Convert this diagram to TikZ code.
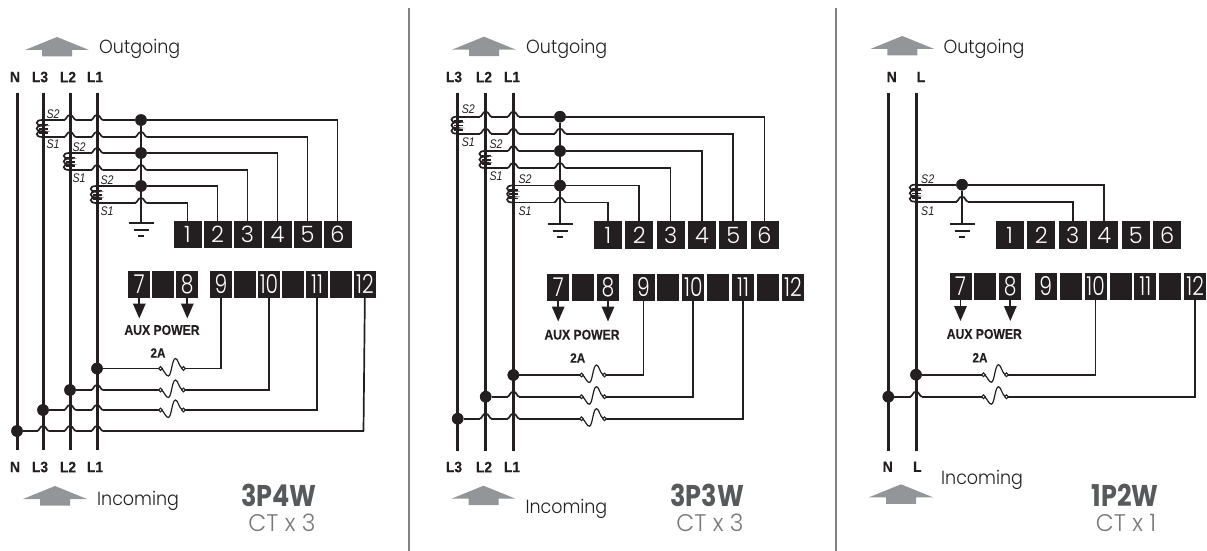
\documentclass[tikz,border=0pt]{standalone}
\usepackage{fontspec}
\usetikzlibrary{arrows.meta}
\setmainfont{Liberation Sans}
\newfontfamily\gothfont{Poppins Light}[FakeStretch=0.92]
\newfontfamily\gothwide{Poppins Light}[FakeStretch=0.97]
\newfontfamily\gothtall{Poppins Light}[FakeStretch=0.78]
\newfontfamily\gothtop{Poppins Light}
\newfontfamily\gothbold{Poppins}[FakeStretch=0.85,UprightFont=* Bold]
\newfontfamily\labelfont{Liberation Sans Bold}[FakeStretch=0.92,FakeBold=0.3]
\newfontfamily\auxfont{Liberation Sans Bold}[FakeStretch=0.87,FakeBold=0.3]
\newfontfamily\slabelfont{Liberation Sans Italic}[FakeStretch=0.85]

\definecolor{inkdark}{HTML}{231F20}
\definecolor{flowgray}{HTML}{939598}
\definecolor{titlegray}{HTML}{58595B}
\definecolor{subgray}{HTML}{77787B}
\definecolor{rulegray}{HTML}{808285}

\tikzset{
    bus/.style={draw=inkdark, line width=3},
    wire/.style={draw=inkdark, line width=1.7},
    divider/.style={draw=rulegray, line width=2.6},
    junction/.style={circle, fill=inkdark, inner sep=0, minimum size=11.5},
    termtop/.style={fill=inkdark, text=white, inner sep=0, minimum width=28, minimum height=27.5, font=\gothtop\fontsize{22.5}{23}\selectfont},
    termlow/.style={fill=inkdark, text=white, inner sep=0, minimum width=22, minimum height=27, font=\gothtall\fontsize{26}{27}\selectfont},
    linelabel/.style={inner sep=0, text=inkdark, font=\labelfont\fontsize{15}{16}\selectfont},
    auxlabel/.style={inner sep=0, text=inkdark, font=\auxfont\fontsize{14}{15}\selectfont},
    amplabel/.style={inner sep=0, text=inkdark, font=\auxfont\fontsize{13.5}{14}\selectfont},
    slabel/.style={inner sep=0, text=inkdark, font=\slabelfont\fontsize{12.5}{13}\selectfont},
    flowtext/.style={inner sep=0, anchor=base west, text=inkdark, font=\gothfont\fontsize{19}{20}\selectfont},
    titletext/.style={inner sep=0, text=titlegray, font=\gothbold\fontsize{30}{31}\selectfont},
    subtext/.style={inner sep=0, text=subgray, font=\gothwide\fontsize{24}{25}\selectfont},
    auxarrow/.style={wire, -{Triangle[width=12.5,length=15]}},
    hop/.pic={
        \fill[white] (-5.5,-1.5) rectangle (5.5,1.5);
        \draw[wire] (-6,0) .. controls (-3.5,0) and (-3.5,-5) .. (0,-5) .. controls (3.5,-5) and (3.5,0) .. (6,0);
    },
    fuse/.pic={
        \coordinate (-in) at (0,0);
        \coordinate (-out) at (26,0);
        \draw[wire, line width=1.2] (2.5,0) .. controls (5,1.5) and (7,8) .. (9.5,7.5) .. controls (12.5,7) and (13,-10) .. (16.5,-10) .. controls (19,-10) and (20,-1.5) .. (23.5,0);
        \draw[wire, line width=1.1, fill=white] (1.5,0) circle (1.9) (24.5,0) circle (1.9);
    },
    coil/.pic={
        \coordinate (-s2) at (0,0);
        \coordinate (-s1) at (0,17);
        \draw[wire] (0,0) -- (-1,0) .. controls (-8,0) and (-8,5.67) .. (-1,5.67) .. controls (-8,5.67) and (-8,11.33) .. (-1,11.33) .. controls (-8,11.33) and (-8,17) .. (-1,17) -- (0,17);
        \draw[wire] (-4,4.5) -- (5,4.5) (-4,8.7) -- (5,8.7) (-4,13) -- (5,13);
    },
    ground/.pic={
        \coordinate (-top) at (0,0);
        \draw[wire] (-12.5,0) -- (12.5,0) (-7.5,7) -- (7.5,7) (-3.3,13) -- (3.3,13);
    },
    flowup/.pic={
        \fill[flowgray] (0,0) -- (32,13) -- (15,13) -- (15,19.5) -- (-15,19.5) -- (-15,13) -- (-32,13) -- cycle;
    },
}

\newcommand{\upperrow}[4]{%
    \foreach \n in {1,...,6}
        \node[termtop] (#1\n) at ({#2+#3*(\n-1)},#4) {\n};
}
\newcommand{\lowerrow}[5]{%
    \node[termlow] (#17) at (#2,#5) {7};
    \node[termlow] (#1b) at ({#2+#4},#5) {};
    \node[termlow] (#18) at ({#2+2*#4},#5) {8};
    \foreach \n/\k/\shown in {9/0/9,c/1/,10/2/10,d/3/,11/4/11,e/5/,12/6/12}
        \node[termlow] (#1\n) at ({#3+#4*\k},#5) {\shown};
    \coordinate (#1tip7) at (#2,#5+34.5);
    \coordinate (#1tip8) at ({#2+2*#4},#5+34.5);
    \draw[auxarrow] (#17) -- (#1tip7);
    \draw[auxarrow] (#18) -- (#1tip8);
}

\begin{document}
\begin{tikzpicture}[x=1pt,y=-1pt]
    \useasboundingbox (0,0) rectangle (1207,551);

    \coordinate (da1) at (409,8);
    \coordinate (da2) at (409,551);
    \coordinate (db1) at (836,8);
    \coordinate (db2) at (836,551);
    \draw[divider] (da1) -- (da2);
    \draw[divider] (db1) -- (db2);

    % 3P4W
    \foreach \b/\xx in {Na/17,Lca/43,Lba/70,Laa/97}{
        \coordinate (\b t) at (\xx,93);
        \coordinate (\b u) at (\xx,450);
    }
    \node[junction] (ja1) at (141,120) {};
    \node[junction] (ja2) at (141,153) {};
    \node[junction] (ja3) at (141,186) {};
    \pic (gnda) at (141,223) {ground};
    \upperrow{a}{187.5}{30}{234.5}
    \lowerrow{a}{139.3}{221}{24}{284}
    \pic (cta1) at (43,120) {coil};
    \pic (cta2) at (70,153) {coil};
    \pic (cta3) at (97,186) {coil};
    \pic (fa1) at (159,368.5) {fuse};
    \pic (fa2) at (159,390) {fuse};
    \pic (fa3) at (159,410) {fuse};
    \node[junction] (fja1) at (97,368.5) {};
    \node[junction] (fja2) at (70,390) {};
    \node[junction] (fja3) at (43,410) {};
    \node[junction] (fja4) at (17,431) {};
    \coordinate (na12) at (363.5,431);

    \draw[wire] (cta1-s2) -- (ja1);
    \draw[wire] (ja1) -| (a6);
    \draw[wire] (cta1-s1) -| (a5);
    \draw[wire] (cta2-s2) -- (ja2);
    \draw[wire] (ja2) -| (a4);
    \draw[wire] (cta2-s1) -| (a3);
    \draw[wire] (cta3-s2) -- (ja3);
    \draw[wire] (ja3) -| (a2);
    \draw[wire] (cta3-s1) -| (a1);
    \draw[wire] (fja1) -- (fa1-in);
    \draw[wire] (fa1-out) -| (a9);
    \draw[wire] (fja2) -- (fa2-in);
    \draw[wire] (fa2-out) -| (a10);
    \draw[wire] (fja3) -- (fa3-in);
    \draw[wire] (fa3-out) -| (a11);
    \draw[wire] (fja4) -- (na12);
    \draw[wire] (na12) -- (a12);

    \foreach \b/\c in {Lbat/cta1-s2,Laat/cta1-s2,Lbat/cta1-s1,Laat/cta1-s1,ja1/cta1-s1,Laat/cta2-s2,Laat/cta2-s1,ja1/cta2-s1,ja1/cta3-s1,Laat/fja2,Lbat/fja3,Laat/fja3,Lcat/fja4,Lbat/fja4,Laat/fja4}
        \pic at (\b |- \c) {hop};

    \draw[wire] (ja1) -- (gnda-top);
    \foreach \b in {Na,Lca,Lba,Laa}
        \draw[bus] (\b t) -- (\b u);
    \foreach \j in {ja1,ja2,ja3,fja1,fja2,fja3,fja4}
        \node[junction] at (\j) {};

    \foreach \nn/\xx/\t in {Ntop/15/N,Lctop/40/L3,Lbtop/68/L2,Latop/95/L1}
        \node[linelabel] (a\nn) at (\xx,77) {\t};
    \foreach \nn/\xx/\t in {Nbot/15/N,Lcbot/40/L3,Lbbot/68/L2,Labot/95/L1}
        \node[linelabel] (a\nn) at (\xx,467) {\t};
    \foreach \nn/\xx/\yy/\t in {s2x/53/114/S2,s1x/53/144/S1,s2y/79/147/S2,s1y/79/178/S1,s2z/107/180/S2,s1z/107/211/S1}
        \node[slabel] (a\nn) at (\xx,\yy) {\t};
    \node[auxlabel] (auxa) at (162,330) {AUX POWER};
    \node[amplabel] (ampa) at (158,353) {2A};
    \pic (upa) at (57,37) {flowup};
    \pic (ina) at (55,486) {flowup};
    \node[flowtext] (outa) at (99,53) {Outgoing};
    \node[flowtext] (inca) at (97,505) {Incoming};
    \node[titletext] (titlea) at (279,495) {3P4W};
    \node[subtext] (suba) at (282,523) {CT x 3};

    % 3P3W
    \foreach \b/\xx in {Lcb/457.7,Lbb/485.7,Lab/513.3}{
        \coordinate (\b t) at (\xx,93);
        \coordinate (\b u) at (\xx,450.5);
    }
    \node[junction] (jb1) at (560,116.7) {};
    \node[junction] (jb2) at (560,151) {};
    \node[junction] (jb3) at (560,185.5) {};
    \pic (gndb) at (560,224) {ground};
    \upperrow{b}{608}{31.3}{235}
    \lowerrow{b}{558.2}{643.5}{24.9}{287}
    \pic (ctb1) at (457.7,116.7) {coil};
    \pic (ctb2) at (485.7,151) {coil};
    \pic (ctb3) at (513.3,185.5) {coil};
    \pic (fb1) at (580,375) {fuse};
    \pic (fb2) at (580,396.7) {fuse};
    \pic (fb3) at (580,418.7) {fuse};
    \node[junction] (fjb1) at (513.3,375) {};
    \node[junction] (fjb2) at (485.7,396.7) {};
    \node[junction] (fjb3) at (457.7,418.7) {};

    \draw[wire] (ctb1-s2) -- (jb1);
    \draw[wire] (jb1) -| (b6);
    \draw[wire] (ctb1-s1) -| (b5);
    \draw[wire] (ctb2-s2) -- (jb2);
    \draw[wire] (jb2) -| (b4);
    \draw[wire] (ctb2-s1) -| (b3);
    \draw[wire] (ctb3-s2) -- (jb3);
    \draw[wire] (jb3) -| (b2);
    \draw[wire] (ctb3-s1) -| (b1);
    \draw[wire] (fjb1) -- (fb1-in);
    \draw[wire] (fb1-out) -| (b9);
    \draw[wire] (fjb2) -- (fb2-in);
    \draw[wire] (fb2-out) -| (b10);
    \draw[wire] (fjb3) -- (fb3-in);
    \draw[wire] (fb3-out) -| (b11);

    \foreach \b/\c in {Lbbt/ctb1-s2,Labt/ctb1-s2,Lbbt/ctb1-s1,Labt/ctb1-s1,jb1/ctb1-s1,Labt/ctb2-s2,Labt/ctb2-s1,jb1/ctb2-s1,jb1/ctb3-s1,Labt/fjb2,Lbbt/fjb3,Labt/fjb3}
        \pic at (\b |- \c) {hop};

    \draw[wire] (jb1) -- (gndb-top);
    \foreach \b in {Lcb,Lbb,Lab}
        \draw[bus] (\b t) -- (\b u);
    \foreach \j in {jb1,jb2,jb3,fjb1,fjb2,fjb3}
        \node[junction] at (\j) {};

    \foreach \nn/\xx/\t in {Lctop/454/L3,Lbtop/484/L2,Latop/512/L1}
        \node[linelabel] (b\nn) at (\xx,77) {\t};
    \foreach \nn/\xx/\t in {Lcbot/454/L3,Lbbot/484/L2,Labot/512/L1}
        \node[linelabel] (b\nn) at (\xx,467) {\t};
    \foreach \nn/\xx/\yy/\t in {s2x/468.3/109.3/S2,s1x/468.3/141.7/S1,s2y/496/144/S2,s1y/496/176/S1,s2z/525/179.3/S2,s1z/525/211/S1}
        \node[slabel] (b\nn) at (\xx,\yy) {\t};
    \node[auxlabel] (auxb) at (582,334.7) {AUX POWER};
    \node[amplabel] (ampb) at (577.7,358) {2A};
    \pic (upb) at (484,36.7) {flowup};
    \pic (inb) at (483.5,485.7) {flowup};
    \node[flowtext] (outb) at (526,54) {Outgoing};
    \node[flowtext] (incb) at (525.3,513.3) {Incoming};
    \node[titletext] (titleb) at (707.3,495) {3P3W};
    \node[subtext] (subb) at (710,523) {CT x 3};

    % 1P2W
    \foreach \b/\xx in {Nc/888.3,Lc/916}{
        \coordinate (\b t) at (\xx,93);
        \coordinate (\b u) at (\xx,450.5);
    }
    \node[junction] (jc1) at (962,184.7) {};
    \pic (gndc) at (962,224) {ground};
    \upperrow{c}{1009.7}{31.5}{235}
    \lowerrow{c}{960.5}{1045.8}{24.9}{286.5}
    \pic (ctc1) at (916,184.7) {coil};
    \pic (fc1) at (982,374.7) {fuse};
    \pic (fc2) at (982,396.7) {fuse};
    \node[junction] (fjc1) at (916,374.7) {};
    \node[junction] (fjc2) at (888.3,396.7) {};

    \draw[wire] (ctc1-s2) -- (jc1);
    \draw[wire] (jc1) -| (c4);
    \draw[wire] (ctc1-s1) -| (c3);
    \draw[wire] (fjc1) -- (fc1-in);
    \draw[wire] (fc1-out) -| (c10);
    \draw[wire] (fjc2) -- (fc2-in);
    \draw[wire] (fc2-out) -| (c12);

    \foreach \b/\c in {jc1/ctc1-s1,Lct/fjc2}
        \pic at (\b |- \c) {hop};

    \draw[wire] (jc1) -- (gndc-top);
    \foreach \b in {Nc,Lc}
        \draw[bus] (\b t) -- (\b u);
    \foreach \j in {jc1,fjc1,fjc2}
        \node[junction] at (\j) {};

    \node[linelabel] (cNtop) at (891.7,77) {N};
    \node[linelabel] (cLtop) at (921,77) {L};
    \node[linelabel] (cNbot) at (887.7,466.7) {N};
    \node[linelabel] (cLbot) at (917.3,466.7) {L};
    \node[slabel] (cs2x) at (927.7,179) {S2};
    \node[slabel] (cs1x) at (927.7,211) {S1};
    \node[auxlabel] (auxc) at (984.3,334) {AUX POWER};
    \node[amplabel] (ampc) at (980,357.7) {2A};
    \pic (upc) at (902.3,36) {flowup};
    \pic (inc) at (901,484.3) {flowup};
    \node[flowtext] (outc) at (943.3,53.3) {Outgoing};
    \node[flowtext] (incc) at (941,484) {Incoming};
    \node[titletext] (titlec) at (1125,495) {1P2W};
    \node[subtext] (subc) at (1126,523) {CT x 1};

\end{tikzpicture}
\end{document}
